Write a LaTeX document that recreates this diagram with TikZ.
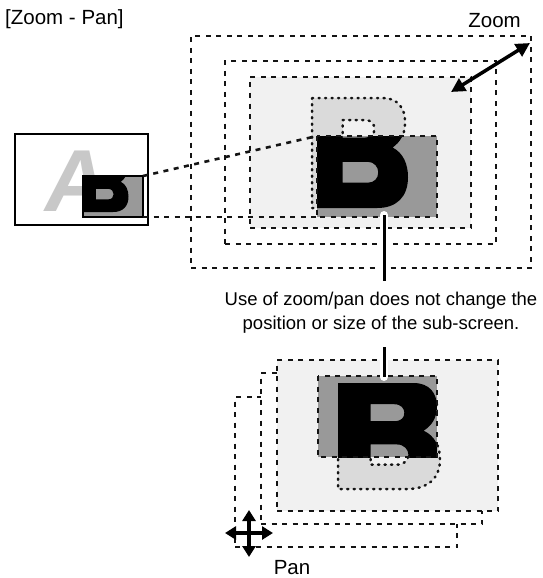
\documentclass[tikz,border=0pt]{standalone}
\usepackage{fontspec}
\setmainfont{Liberation Sans}
\usetikzlibrary{arrows.meta,calc}
\definecolor{bgl}{HTML}{F1F1F1}
\definecolor{blite}{HTML}{DADADA}
\definecolor{dgray}{HTML}{999999}
\definecolor{agray}{HTML}{C8C8C8}
\definecolor{ink}{HTML}{141414}
\newcommand{\Bshape}[1]{%
  \path[#1] (0,0) -- (0.74,0) .. controls (0.9,0) and (0.97,0.1) .. (0.97,0.22)
   .. controls (0.97,0.33) and (0.92,0.4) .. (0.84,0.45)
   .. controls (0.95,0.5) and (1,0.6) .. (1,0.72)
   .. controls (1,0.9) and (0.88,1) .. (0.68,1) -- (0,1) -- cycle
   (0.32,0.2) -- (0.55,0.2) .. controls (0.62,0.2) and (0.65,0.24) .. (0.65,0.28)
   .. controls (0.65,0.33) and (0.62,0.36) .. (0.55,0.36) -- (0.32,0.36) -- cycle
   (0.32,0.58) -- (0.58,0.58) .. controls (0.65,0.58) and (0.69,0.63) .. (0.69,0.675)
   .. controls (0.69,0.73) and (0.65,0.77) .. (0.58,0.77) -- (0.32,0.77) -- cycle;}
\tikzset{
  frame/.style={rectangle, inner sep=0pt, outer sep=0pt, line width=2.6pt, draw=ink, dash pattern=on 5pt off 5.5pt},
  rdash/.style={line width=2.6pt, draw=ink, dash pattern=on 5pt off 5.5pt},
  bdot/.style={draw=ink, line width=2.5pt, dash pattern=on 1.2pt off 5.3pt, line cap=round},
  plain/.style={rectangle, inner sep=0pt, outer sep=0pt},
  lbl/.style={inner sep=0pt, font=\fontsize{20.5}{24}\selectfont},
  notetxt/.style={inner sep=0pt, font=\fontsize{18.5}{22}\selectfont},
  bigarrow/.style={line width=3.5pt, draw=black},
}
\begin{document}
\begin{tikzpicture}[x=1pt,y=-1pt]
\useasboundingbox (0,0) rectangle (542,578);

% labels
\node[lbl, anchor=base west] (title) at (5,25) {[Zoom - Pan]};
\node[lbl, anchor=base east] (zoomlbl) at (521,28) {Zoom};

% ---------- zoom frames ----------
\node[frame, minimum width=340pt, minimum height=232pt] (z1) at (361,152) {};
\node[frame, minimum width=271pt, minimum height=183pt] (z2) at (360.5,152.5) {};
\node[frame, fill=bgl, minimum width=221pt, minimum height=151pt] (z3) at (360.5,152.5) {};

% ---------- main screen (left) ----------
\node[plain, draw=black, line width=2.7pt, fill=white, minimum width=133pt, minimum height=91pt] (mainscr) at (81.5,179.5) {};
\node[inner sep=0pt, anchor=base west, text=agray, xslant=0.15, font=\fontsize{88}{88}\selectfont\bfseries] (letA) at (41,211) {A};
\node[plain, fill=dgray, minimum width=60pt, minimum height=41pt] (mini) at (113,196.5) {};
\begin{scope}
  \clip (mini.north west) rectangle (mini.south east);
  \begin{scope}[shift={(80.5,157)}, xscale=48, yscale=55]
    \Bshape{fill=black, even odd rule}
  \end{scope}
\end{scope}
\draw[black, line width=2.2pt] (mini.north west) rectangle (mini.south east);

% sub-screen (zoomed) node
\node[plain, minimum width=120pt, minimum height=81pt] (sub1) at (377,176.5) {};

% projection lines
\draw[rdash] (mini.north east) -- (sub1.north west);
\draw[rdash] (mini.south east) -- (sub1.south west);

% light B
\begin{scope}[shift={(312,98)}, xscale=96, yscale=110]
  \Bshape{fill=blite, even odd rule}
  \Bshape{bdot}
\end{scope}
% sub-screen content
\fill[dgray] (sub1.north west) rectangle (sub1.south east);
\begin{scope}
  \clip (sub1.north west) rectangle (sub1.south east);
  \begin{scope}[shift={(312,98)}, xscale=96, yscale=110]
    \Bshape{fill=black, even odd rule}
  \end{scope}
\end{scope}
\draw[rdash] (sub1.north west) rectangle (sub1.south east);

% zoom arrow
\coordinate (za1) at (530,43);
\coordinate (za2) at (451,92);
\draw[bigarrow, {Triangle[length=14pt,width=14pt]}-{Triangle[length=14pt,width=14pt]}] (za2) -- (za1);

% callout lines and note
\coordinate (v1) at (384,215);
\coordinate (v2) at (384,281);
\draw[white, line width=8pt, line cap=round] (v1) -- (v2);
\draw[black, line width=3pt] (v1) -- (v2);
\node[notetxt, anchor=base] (note1) at (381,305) {Use of zoom/pan does not change the};
\node[notetxt, anchor=base] (note2) at (381,329) {position or size of the sub-screen.};

% ---------- pan frames ----------
\node[frame, fill=white, minimum width=222pt, minimum height=150pt] (p3) at (346,472) {};
\node[frame, fill=white, minimum width=221pt, minimum height=151pt] (p2) at (371.5,448.5) {};
\node[frame, fill=bgl, minimum width=221pt, minimum height=151pt] (p1) at (387.5,435.5) {};

\node[plain, minimum width=119pt, minimum height=81pt] (sub2) at (377.5,416.5) {};
\begin{scope}[shift={(338,383)}, xscale=102, yscale=106]
  \Bshape{fill=blite, even odd rule}
  \Bshape{bdot}
\end{scope}
\fill[dgray] (sub2.north west) rectangle (sub2.south east);
\begin{scope}
  \clip (sub2.north west) rectangle (sub2.south east);
  \begin{scope}[shift={(338,383)}, xscale=102, yscale=106]
    \Bshape{fill=black, even odd rule}
  \end{scope}
\end{scope}
\draw[rdash] (sub2.north west) rectangle (sub2.south east);

\coordinate (v3) at (384,347);
\coordinate (v4) at (384,377);
\draw[white, line width=8pt, line cap=round] (v3) -- (v4);
\draw[black, line width=3pt] (v3) -- (v4);

% pan arrows
\coordinate (pc) at (249,533);
\coordinate (pu) at (249,510);
\coordinate (pd) at (249,557);
\coordinate (pl) at (225,533);
\coordinate (pr) at (273,533);
\foreach \t in {pu,pd,pl,pr}{
  \draw[white, line width=8pt] (pc) -- ($(pc)!0.6!(\t)$);
}
\foreach \t in {pu,pd,pl,pr}{
  \draw[bigarrow, line width=4pt, -{Triangle[length=11pt,width=13pt]}] (pc) -- (\t);
}
\node[lbl, anchor=base] (panlbl) at (292,574) {Pan};
\end{tikzpicture}
\end{document}
